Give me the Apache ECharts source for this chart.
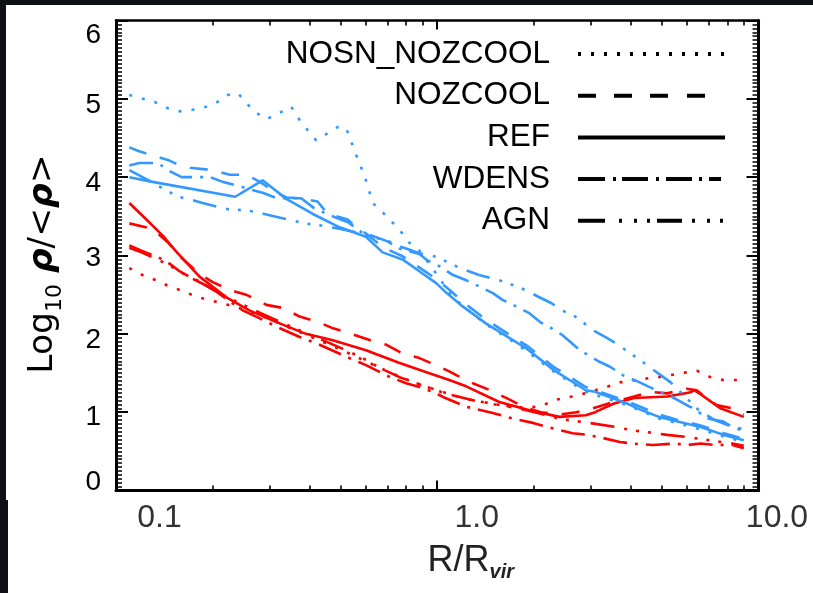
<!DOCTYPE html>
<html>
<head>
<meta charset="utf-8">
<script src="https://cdn.jsdelivr.net/npm/echarts@6/dist/echarts.min.js"></script>
<style>
html,body{margin:0;padding:0;background:#0e0f17;overflow:hidden;}
.panel{position:absolute;background:#ffffff;}
#p1{left:6px;top:5px;width:807px;height:495px;}
#p2{left:8px;top:500px;width:805px;height:93px;}
.layer{position:absolute;left:0;top:0;width:813px;height:593px;}
</style>
</head>
<body>
<div class="panel" id="p1"></div>
<div class="panel" id="p2"></div>
<div class="layer" id="c"></div>
<div class="layer" id="d"></div>
<script>
// ---------------- data ----------------
const legendNames = ['NOSN_NOZCOOL', 'NOZCOOL', 'REF', 'WDENS', 'AGN'];
const xTickLabels = ['0.1', '1.0', '10.0'];
const yTickLabels = ['0', '1', '2', '3', '4', '5', '6'];

// blue curves  [R/Rvir, log10 rho/<rho>]
const blueNOSN = [[0.110,5.05],[0.132,4.96],[0.145,4.88],[0.158,4.84],[0.173,4.86],[0.191,4.90],[0.207,4.96],[0.223,5.05],[0.240,5.07],[0.255,4.94],[0.274,4.82],[0.294,4.74],[0.323,4.82],[0.351,4.90],[0.373,4.73],[0.395,4.60],[0.420,4.47],[0.456,4.56],[0.490,4.64],[0.520,4.63],[0.540,4.45],[0.560,4.28],[0.580,4.12],[0.600,3.96],[0.630,3.67],[0.680,3.54],[0.730,3.41],[0.780,3.28],[0.820,3.16],[0.880,3.06],[0.950,2.88],[1.02,2.70],[1.10,2.50],[1.20,2.36],[1.42,2.12],[1.72,1.90],[1.90,1.78],[2.30,1.52],[2.90,1.26],[3.90,1.09],[4.90,0.92],[5.60,0.86],[6.60,0.78],[7.80,0.69],[9.0,0.62]];
const blueNOZCOOL = [[0.110,4.38],[0.118,4.33],[0.130,4.28],[0.145,4.22],[0.158,4.15],[0.170,4.12],[0.190,4.10],[0.205,4.08],[0.226,4.03],[0.255,4.03],[0.275,3.96],[0.290,3.90],[0.315,3.80],[0.340,3.74],[0.377,3.73],[0.424,3.69],[0.456,3.53],[0.526,3.46],[0.560,3.36],[0.600,3.28],[0.680,3.10],[0.780,2.99],[0.900,2.82],[1.00,2.69],[1.10,2.55],[1.20,2.41],[1.42,2.18],[1.72,1.96],[1.90,1.85],[2.30,1.58],[2.90,1.32],[3.90,1.14],[4.90,0.97],[5.60,0.90],[6.60,0.83],[7.80,0.73],[9.0,0.66]];
const blueREF = [[0.110,4.00],[0.130,3.94],[0.235,3.75],[0.286,3.96],[0.340,3.72],[0.410,3.53],[0.497,3.36],[0.600,3.24],[0.676,3.04],[0.780,2.95],[0.900,2.77],[0.990,2.65],[1.07,2.52],[1.20,2.35],[1.42,2.13],[1.72,1.92],[1.90,1.81],[2.30,1.54],[2.90,1.28],[3.10,1.26],[3.90,1.11],[4.30,1.03],[4.90,0.94],[5.60,0.88],[6.60,0.81],[7.80,0.71],[9.0,0.64]];
const blueWDENS = [[0.110,4.15],[0.118,4.18],[0.135,4.18],[0.148,4.07],[0.160,4.00],[0.178,4.00],[0.196,4.00],[0.215,3.94],[0.235,3.90],[0.264,3.84],[0.286,3.80],[0.318,3.73],[0.377,3.73],[0.415,3.60],[0.460,3.52],[0.530,3.42],[0.580,3.30],[0.640,3.24],[0.700,3.18],[0.760,3.09],[0.880,3.02],[0.930,2.94],[1.02,2.86],[1.12,2.75],[1.22,2.69],[1.36,2.60],[1.49,2.52],[1.60,2.43],[1.76,2.35],[1.94,2.26],[2.09,2.15],[2.27,2.07],[2.46,1.98],[2.78,1.79],[3.21,1.64],[3.45,1.58],[3.79,1.47],[4.22,1.39],[4.53,1.33],[4.93,1.26],[5.35,1.20],[6.10,1.07],[6.30,1.05],[6.90,0.92],[7.78,0.88],[8.30,0.81],[9.0,0.76]];
const blueAGN = [[0.110,4.09],[0.129,3.94],[0.142,3.84],[0.156,3.75],[0.172,3.71],[0.186,3.67],[0.223,3.59],[0.246,3.58],[0.270,3.56],[0.296,3.52],[0.327,3.48],[0.386,3.41],[0.424,3.39],[0.500,3.34],[0.580,3.28],[0.650,3.22],[0.700,3.19],[0.760,3.12],[0.880,3.03],[1.00,2.98],[1.12,2.88],[1.23,2.81],[1.35,2.75],[1.48,2.71],[1.63,2.66],[1.88,2.56],[2.07,2.47],[2.27,2.39],[2.44,2.30],[2.69,2.22],[3.10,2.03],[3.33,1.96],[3.60,1.88],[3.93,1.77],[4.30,1.66],[4.97,1.47],[5.33,1.38],[5.90,1.20],[6.50,1.03],[7.30,0.90],[8.20,0.82],[9.0,0.78]];

// red curves
const redNOSN = [[0.110,2.84],[0.121,2.75],[0.132,2.69],[0.144,2.62],[0.158,2.56],[0.172,2.50],[0.187,2.45],[0.205,2.41],[0.223,2.37],[0.250,2.31],[0.300,2.19],[0.350,2.07],[0.400,1.97],[0.500,1.80],[0.600,1.65],[0.700,1.52],[0.800,1.42],[0.900,1.34],[1.00,1.28],[1.20,1.18],[1.50,1.10],[1.80,1.06],[2.08,1.07],[2.35,1.16],[2.62,1.20],[2.88,1.24],[3.41,1.33],[3.70,1.38],[4.49,1.43],[4.93,1.45],[5.82,1.50],[6.42,1.53],[7.06,1.45],[7.78,1.41],[9.0,1.41]];
const redNOZCOOL = [[0.110,3.41],[0.130,3.34],[0.145,3.17],[0.160,2.97],[0.180,2.78],[0.200,2.66],[0.226,2.56],[0.254,2.50],[0.294,2.37],[0.331,2.33],[0.373,2.22],[0.420,2.16],[0.474,2.07],[0.540,2.00],[0.616,1.92],[0.695,1.86],[0.780,1.75],[0.880,1.69],[0.990,1.60],[1.09,1.52],[1.15,1.47],[1.29,1.37],[1.46,1.28],[1.68,1.16],[1.85,1.07],[2.10,1.00],[2.40,0.97],[2.71,1.00],[3.05,1.05],[3.60,1.14],[4.10,1.20],[4.60,1.26],[5.20,1.24],[5.97,1.30],[6.42,1.28],[6.90,1.18],[7.40,1.09],[8.30,1.05],[9.0,0.97]];
const redREF = [[0.110,3.67],[0.125,3.45],[0.140,3.25],[0.154,3.05],[0.182,2.73],[0.220,2.47],[0.260,2.30],[0.316,2.15],[0.390,2.00],[0.470,1.92],[0.600,1.79],[0.760,1.63],[0.970,1.48],[1.09,1.41],[1.23,1.33],[1.56,1.13],[2.00,1.01],[2.40,0.94],[2.90,0.96],[3.10,1.00],[3.55,1.11],[4.10,1.18],[5.20,1.20],[6.10,1.25],[6.30,1.28],[6.60,1.23],[7.60,1.05],[9.0,0.94]];
const redWDENS = [[0.110,3.13],[0.120,3.06],[0.135,2.98],[0.144,2.92],[0.159,2.79],[0.169,2.73],[0.182,2.67],[0.205,2.54],[0.225,2.42],[0.248,2.30],[0.273,2.22],[0.320,2.08],[0.373,1.96],[0.420,1.88],[0.470,1.79],[0.520,1.71],[0.600,1.60],[0.710,1.45],[0.800,1.37],[0.880,1.32],[0.970,1.26],[1.06,1.18],[1.23,1.07],[1.49,0.99],[1.75,0.91],[2.00,0.86],[2.20,0.81],[2.64,0.73],[2.94,0.71],[3.28,0.67],[3.70,0.62],[4.03,0.60],[4.70,0.58],[5.50,0.60],[6.00,0.58],[6.60,0.60],[7.40,0.58],[8.30,0.58],[9.0,0.54]];
const redAGN = [[0.110,3.10],[0.120,3.04],[0.135,2.95],[0.150,2.85],[0.170,2.72],[0.190,2.62],[0.210,2.52],[0.240,2.40],[0.280,2.27],[0.330,2.14],[0.380,2.03],[0.440,1.92],[0.500,1.82],[0.580,1.70],[0.660,1.57],[0.760,1.45],[0.860,1.37],[0.960,1.30],[1.06,1.24],[1.30,1.15],[1.78,1.05],[2.10,0.98],[2.45,0.91],[3.00,0.86],[3.60,0.81],[4.03,0.77],[4.80,0.73],[5.20,0.71],[5.80,0.69],[6.30,0.67],[7.06,0.64],[8.30,0.60],[9.0,0.57]];

const blueSets = [blueNOSN, blueNOZCOOL, blueREF, blueWDENS, blueAGN];
const redSets  = [redNOSN, redNOZCOOL, redREF, redWDENS, redAGN];

// ---------------- styles ----------------
const BLUE = '#3399ff', RED = '#ff0000';
const lineTypes = [[3, 10], [18, 14], 'solid', [24, 8, 3, 8], [24, 10, 3, 9, 3, 9, 3, 10]];
const iconSegs = [
  [[0,3],[13,16],[26,29],[39,42],[52,55],[65,68],[78,81],[91,94],[104,107],[117,120],[130,133],[143,146]],
  [[0,18],[36,54],[72,90],[109,127]],
  [[0,147]],
  [[0,27],[35,38],[44,70],[78,81],[88,114],[121,124],[131,143]],
  [[0,27],[41,44],[56,59],[69,72],[79,104],[114,117],[129,132],[142,145]]
];
function segPath(segs){
  return 'path://' + segs.map(s => `M${s[0]} 0L${s[1]} 0L${s[1]} 4L${s[0]} 4Z`).join(' ') + ' M147 0L147 4L147 0';
}
const FONT = 'Liberation Sans';
const yLabelShift = [-8, 5, 6, 2.5, 6, 6, 14.5];
const xLabelShift = [43.5, 39.5, 18.5];
const yRich = {};
yLabelShift.forEach((d, i) => { yRich['y' + i] = {fontSize: 28, fontFamily: FONT, color: '#000', padding: d >= 0 ? [2 * d, 0, 0, 0] : [0, 0, -2 * d, 0]}; });
const xRich = {};
xLabelShift.forEach((d, i) => { xRich['x' + i] = {fontSize: 32, fontFamily: FONT, color: '#333', lineHeight: 32, padding: [0, 0, 0, 2 * d]}; });
const minorX = [0.2,0.3,0.4,0.5,0.6,0.7,0.8,0.9,2,3,4,5,6,7,8,9];
const TICK = {color: '#000', width: 2};
const GRID = {left: 116, right: 54.5, top: 20.5, bottom: 102.5};

function logAxis(pos, opts) {
  return Object.assign({type: 'log', logBase: 10, min: 0.1, max: 10, position: pos,
    axisLine: {show: true, onZero: false, lineStyle: {color: '#000', width: 3}},
    axisTick: {show: true, inside: true, length: 10, lineStyle: TICK},
    axisLabel: {show: false}, splitLine: {show: false}}, opts);
}
function minorAxis(pos, len) {
  return {type: 'log', logBase: 10, min: 0.1, max: 10, position: pos,
    axisLine: {show: false, onZero: false},
    axisTick: {show: true, inside: true, length: len, customValues: minorX, lineStyle: {color: '#000', width: 1.6}},
    axisLabel: {show: false}, splitLine: {show: false}};
}
function yAxisDef(pos, opts) {
  return Object.assign({type: 'value', min: 0, max: 6, interval: 1, position: pos,
    axisLine: {show: true, onZero: false, lineStyle: {color: '#000', width: 3}},
    axisTick: {show: true, inside: true, length: 12, lineStyle: TICK},
    minorTick: {show: true, splitNumber: 20, length: 6, lineStyle: {color: '#000', width: 1.5}},
    axisLabel: {show: false}, splitLine: {show: false}, minorSplitLine: {show: false}}, opts);
}

// ---------- layer 1: frame, axes, ticks, labels, legend ----------
const legendSeries = legendNames.map(n => ({type: 'line', name: n, data: [], color: '#000', symbol: 'none'}));
const axesOption = {
  animation: false, backgroundColor: 'transparent',
  grid: GRID,
  legend: {
    data: legendNames.map((n, i) => ({name: n, icon: segPath(iconSegs[i])})),
    orient: 'vertical', align: 'right', right: 88, top: 38,
    itemWidth: 147, itemHeight: 4, itemGap: 9.7, padding: 0,
    selectedMode: false, symbolKeepAspect: false, itemStyle: {borderWidth: 0},
    textStyle: {fontSize: 31.5, fontFamily: FONT, color: '#000', lineHeight: 31, padding: [0, 23, 0, 0]}
  },
  xAxis: [
    logAxis('bottom', {
      axisLabel: {show: true, margin: 12, formatter: (v) => { const i = Math.round(Math.log10(v)) + 1; return '{x' + i + '|' + xTickLabels[i] + '}'; }, rich: xRich},
      name: '{m|R/R}{s|vir}', nameLocation: 'middle', nameGap: 49.5,
      nameTextStyle: {padding: [0, 0, 0, 67], rich: {
          m: {fontSize: 36, fontFamily: FONT, color: '#222', lineHeight: 42},
          s: {fontSize: 20, fontFamily: FONT, color: '#222', fontWeight: 'bold', fontStyle: 'italic', lineHeight: 20, verticalAlign: 'bottom'}}}
    }),
    minorAxis('bottom', 5),
    logAxis('top', {axisTick: {show: true, inside: true, length: 9, lineStyle: TICK}, axisLine: {show: true, onZero: false, lineStyle: {color: '#000', width: 2.5}}}),
    minorAxis('top', 5)
  ],
  yAxis: [
    yAxisDef('left', {
      axisLabel: {show: true, margin: 15, formatter: (v) => '{y' + v + '|' + yTickLabels[v] + '}', rich: yRich},
      name: '{n|Log}{s|10}{n| }{r|ρ}{n|/<}{r|ρ}{n|>}', nameLocation: 'middle', nameGap: 50, nameRotate: 90,
      nameTextStyle: {padding: [0, 17, 0, 0], rich: {
          n: {fontSize: 34.5, fontFamily: 'DejaVu Sans', color: '#000', lineHeight: 46},
          r: {fontSize: 34.5, fontFamily: 'DejaVu Sans', color: '#000', lineHeight: 46, fontStyle: 'italic', fontWeight: 'bold'},
          s: {fontSize: 22, fontFamily: 'DejaVu Sans', color: '#000', lineHeight: 22, verticalAlign: 'bottom'}}}
    }),
    yAxisDef('right', {})
  ],
  series: legendSeries
};

// ---------- layer 2: the curves, on identical (hidden) scales ----------
const curveSeries = [];
[[redSets, RED, 'red'], [blueSets, BLUE, 'blue']].forEach(([sets, col, tag]) => {
  sets.forEach((d, i) => {
    curveSeries.push({
      type: 'line', name: legendNames[i] + ' ' + tag, data: d,
      symbol: 'none', showSymbol: false, smooth: false, color: col,
      lineStyle: {color: col, width: 2.6, type: lineTypes[i], cap: 'butt'},
      emphasis: {disabled: true}, silent: true, z: tag === 'blue' ? 3 : 2
    });
  });
});
const curvesOption = {
  animation: false, backgroundColor: 'transparent',
  grid: GRID,
  xAxis: {type: 'log', logBase: 10, min: 0.1, max: 10, show: false},
  yAxis: {type: 'value', min: 0, max: 6, show: false},
  series: curveSeries
};

const axesChart = echarts.init(document.getElementById('c'), null, {renderer: 'canvas', width: 813, height: 593});
axesChart.setOption(axesOption);
const curvesChart = echarts.init(document.getElementById('d'), null, {renderer: 'canvas', width: 813, height: 593});
curvesChart.setOption(curvesOption);

// make sure every element (incl. axis ticks) is in the painted display list
function flushAll() {
  [axesChart, curvesChart].forEach(ch => {
    try {
      const zr = ch.getZr();
      zr.storage.getDisplayList(true);
      zr.refreshImmediately();
    } catch (e) {}
  });
}
flushAll();
setTimeout(flushAll, 30);
setTimeout(flushAll, 200);
</script>
</body>
</html>
